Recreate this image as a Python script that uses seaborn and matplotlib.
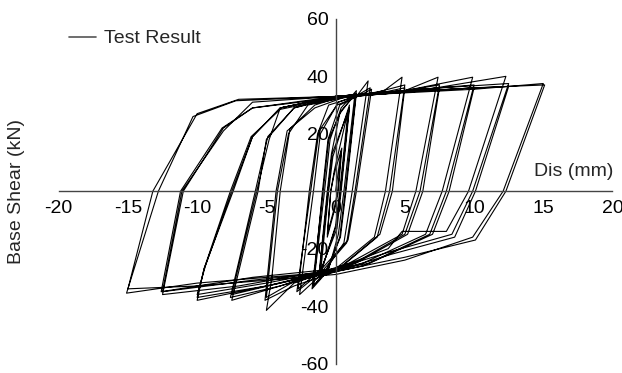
import numpy as np
import pandas as pd
import matplotlib
matplotlib.use("Agg")
import matplotlib.pyplot as plt
import seaborn as sns

# ---- data: hysteresis path, grouped by displacement amplitude (mm, kN) ----
a05_x = [0, 0.4, 0.15, -0.1, -0.6, -0.35, -0.1, 0.45, 0.2, -0.05, -0.6, -0.35, -0.1]
a05_y = [0, 14, 0, -6, -15, 0, 6, 15, 0, -6, -16, 0, 7]

a10_x = [0.9, 0.3, 0.0, -1.1, -0.5, -0.2, 1.0, 0.35, 0.05, -1.2, -0.55, -0.25,
         1.0, 0.4, 0.1, -1.2, -0.6, -0.3]
a10_y = [28, 0, -12, -29, 0, 12, 30, 0, -12, -30, 0, 13,
         29, 0, -13, -29, 0, 13]

a15_x = [0.3, 1.4, 0.6, 0.2, -0.5, -1.6, -0.8, -0.4,
         0.4, 1.5, 0.7, 0.3, -0.6, -1.7, -0.9, -0.5,
         0.4, 1.5, 0.75, 0.35, -0.6, -1.6, -0.95, -0.55]
a15_y = [27, 34, 0, -15, -27, -33, 0, 18,
         29, 35, 0, -16, -28, -34, 0, 18,
         28, 34, 0, -16, -27, -33, 0, 18]

a25_x = [0.3, 1.5, 2.35, 1.2, 0.6, -0.8, -2.6, -1.6, -1.1,
         0.2, 1.6, 2.5, 1.4, 0.8, -1.0, -2.8, -1.8, -1.2,
         0.1, 1.6, 2.6, 1.5, 0.9, -1.0, -2.7, -1.9, -1.3]
a25_y = [30, 33, 38.4, 0, -18, -28, -36, 0, 20,
         31, 33.5, 36, 0, -18, -28, -35, 0, 21,
         30, 33, 35.5, 0, -17, -27, -34, 0, 20]

a50_x = [-0.5, 1.5, 3.5, 4.8, 3.6, 2.8, 0.0, -3.0, -5.0, -4.6, -4.0, -3.3,
         -1.5, 0.5, 3.0, 5.0, 3.9, 3.0, 0.0, -3.0, -5.1, -4.3, -3.5,
         -1.5, 0.5, 3.0, 5.0, 4.1, 3.2, 0.2, -3.2, -5.0, -4.2, -3.4]
a50_y = [30, 33, 35, 39.7, 0, -16, -27, -32, -41.5, -30, 0, 21.7,
         30, 33, 34.5, 37, 0, -16, -28, -33, -38, 0, 21,
         29, 32.5, 34, 36, 0, -15, -27, -32, -37, 0, 20]

a75_x = [-2.0, 1.0, 5.0, 7.4, 5.8, 4.8, 1.0, -4.0, -7.5, -5.6, -5.0,
         -3.0, 0.0, 5.0, 7.5, 6.1, 5.0, 1.0, -4.0, -7.6, -5.8, -4.9,
         -3.0, 0.0, 5.0, 7.5, 6.3, 5.2, 1.5, -4.0, -7.5, -5.7, -4.8]
a75_y = [30, 33, 35, 39.7, 0, -15, -25, -33, -38, 0, 18,
         29, 33, 35, 37, 0, -15, -26, -33, -37, 0, 19,
         29, 32.5, 34.5, 36, 0, -15, -25, -32, -36, 0, 18]

a100_x = [-4.0, 0.0, 5.0, 9.9, 7.7, 6.5, 2.0, -5.0, -10.0, -9.5, -7.4, -6.0,
          -4.0, 0.0, 5.0, 10.0, 8.0, 6.8, 2.0, -5.0, -10.0, -9.5, -7.6, -6.1,
          -4.0, 0.0, 5.0, 10.0, 8.2, 7.0, 2.5, -5.0, -10.0, -9.4, -7.5, -6.0]
a100_y = [29, 33, 35, 39.7, 0, -15, -25, -33, -38, -27, 0, 19,
          29, 33, 35, 37, 0, -15, -26, -33, -37, -27, 0, 19,
          28.5, 32.5, 34.5, 36, 0, -15, -25, -32, -36, -26, 0, 19]

a125_x = [-4.0, 0.0, 6.0, 12.3, 9.6, 8.0, 4.8, 3.8, 0.0, -7.0, -12.5, -11.0, -8.1,
          -6.0, 0.0, 6.0, 12.5, 9.9, 8.4, 4.0, 0.0, -6.0, -12.6, -11.2, -8.2,
          -6.0, 0.0, 6.0, 12.5, 10.1, 8.6, 4.0, 0.0, -6.0, -12.5, -11.1, -8.1]
a125_y = [29, 33, 35, 40, 0, -14, -14, -20, -27, -33, -36, 0, 22,
          29, 33, 35.5, 37.5, 0, -15, -21, -27, -30, -35, 0, 22,
          29, 32.5, 35, 36.5, 0, -16, -22, -28, -31, -35, 0, 21]

a150_x = [-6.0, 0.0, 10.0, 15.0, 12.1, 9.9, 5.0, 0.0, -10.0, -15.0, -13.2, -10.0,
          -7.0, 0.0, 10.0, 15.1, 12.3, 10.1, 5.0, 0.0, -10.0, -15.1, -12.8, -10.3,
          -7.2, 0.0]
a150_y = [31, 33, 35.5, 37.5, 0, -16, -24, -29, -33, -34, 0, 27,
          32, 33, 36, 37, 0, -17, -23, -28, -32, -35.5, 0, 26,
          31.5, 33]

x_ticks = [-20, -15, -10, -5, 0, 5, 10, 15, 20]
y_ticks = [-60, -40, -20, 20, 40, 60]

groups_x = [a05_x, a10_x, a15_x, a25_x, a50_x, a75_x, a100_x, a125_x, a150_x]
groups_y = [a05_y, a10_y, a15_y, a25_y, a50_y, a75_y, a100_y, a125_y, a150_y]
xs = np.concatenate(groups_x)
ys = np.concatenate(groups_y)
df = pd.DataFrame({"Dis": xs, "Shear": ys})

sns.set_theme(style="white")
plt.rcParams["font.family"] = ["Liberation Sans", "DejaVu Sans"]

fig = plt.figure(figsize=(6.22, 3.73), dpi=100)
ax = fig.add_axes([58.7 / 622, 1 - 363.5 / 373, 553.8 / 622, 344.6 / 373])

sns.lineplot(data=df, x="Dis", y="Shear", sort=False, estimator=None,
             color="black", lw=0.8, ax=ax, label="Test Result")

ax.set_xlim(-20, 20)
ax.set_ylim(-60, 60)
ax.set_xticks(x_ticks)
ax.set_yticks(y_ticks)
ax.set_xticklabels([str(t) for t in x_ticks])
ax.set_yticklabels([str(t) for t in y_ticks])
ax.set_xlabel("")
ax.set_ylabel("")

for s in ["top", "right"]:
    ax.spines[s].set_visible(False)
ax.spines["left"].set_position(("data", 0))
ax.spines["bottom"].set_position(("data", 0))
for s in ["left", "bottom"]:
    ax.spines[s].set_color("#444444")
    ax.spines[s].set_linewidth(1.0)
ax.tick_params(axis="x", direction="in", length=4, width=1, color="#444444",
               pad=6, labelcolor="black", labelsize=14)
ax.tick_params(axis="y", direction="out", length=4, width=1, color="#444444",
               pad=1, labelcolor="black", labelsize=14)
ax.set_facecolor("white")

ax.text(20.05, 6.9, "Dis (mm)", ha="right", va="center", fontsize=14)
fig.text(17 / 622, 1 - 192 / 373, "Base Shear (kN)", rotation=90,
         ha="center", va="center", fontsize=14)

leg = ax.legend(loc="upper left", bbox_to_anchor=(-0.006, 1.008), frameon=False,
                fontsize=14, handlelength=1.4, handletextpad=0.4,
                borderaxespad=0.3)
for h in leg.get_lines():
    h.set_color("#555555")
    h.set_linewidth(1.2)

fig.savefig("out.png", dpi=100, facecolor="white")
